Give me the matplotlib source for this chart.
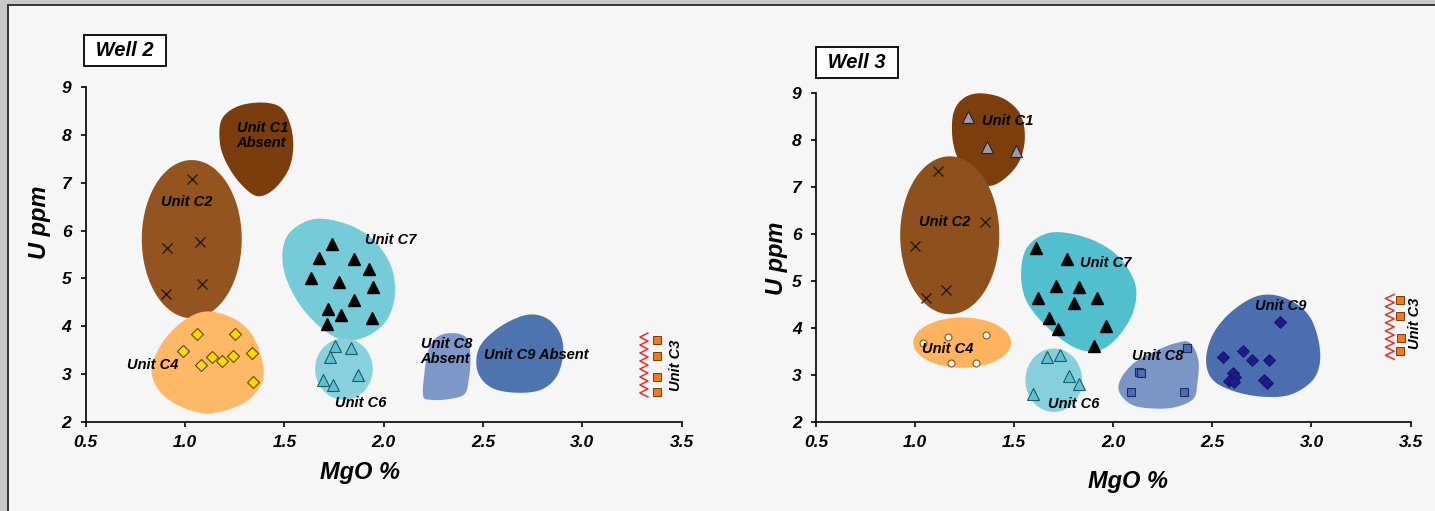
"""U ppm vs MgO % cross-plots for Well 2 and Well 3, with unit envelopes."""

import matplotlib
matplotlib.use("Agg")
import matplotlib.pyplot as plt  # noqa: E402
import numpy as np  # noqa: E402
from matplotlib.patches import Rectangle  # noqa: E402

# ---------------- Well 2 samples ----------------
W2_C2_MGO = [1.033, 0.911, 1.075, 1.085, 0.903]
W2_C2_U = [7.07, 5.64, 5.77, 4.885, 4.67]
W2_C4_MGO = [1.059, 1.251, 0.991, 1.134, 1.184, 1.243, 1.338, 1.080, 1.343]
W2_C4_U = [3.84, 3.84, 3.49, 3.36, 3.28, 3.38, 3.44, 3.195, 2.85]
W2_C7_MGO = [1.738, 1.676, 1.852, 1.924, 1.634, 1.776, 1.947, 1.852, 1.721, 1.783, 1.943, 1.717]
W2_C7_U = [5.71, 5.43, 5.41, 5.19, 5.02, 4.93, 4.82, 4.545, 4.357, 4.245, 4.18, 4.057]
W2_C6_MGO = [1.755, 1.834, 1.729, 1.693, 1.746, 1.872]
W2_C6_U = [3.60, 3.54, 3.37, 2.88, 2.78, 2.99]
W2_C3_MGO = [3.374, 3.374, 3.378, 3.374]
W2_C3_U = [3.72, 3.39, 2.95, 2.64]

# ---------------- Well 3 samples ----------------
W3_C1_MGO = [1.265, 1.363, 1.507]
W3_C1_U = [8.49, 7.86, 7.77]
W3_C2_MGO = [1.117, 1.351, 0.998, 1.154, 1.055]
W3_C2_U = [7.345, 6.27, 5.75, 4.81, 4.65]
W3_C4_MGO = [1.041, 1.168, 1.356, 1.179, 1.307]
W3_C4_U = [3.68, 3.82, 3.85, 3.26, 3.26]
W3_C7_MGO = [1.610, 1.768, 1.711, 1.827, 1.618, 1.802, 1.919, 1.677, 1.723, 1.963, 1.903]
W3_C7_U = [5.71, 5.47, 4.90, 4.87, 4.655, 4.54, 4.65, 4.21, 3.995, 4.04, 3.625]
W3_C6_MGO = [1.664, 1.731, 1.775, 1.825, 1.596]
W3_C6_U = [3.39, 3.43, 2.99, 2.81, 2.61]
W3_C8_MGO = [2.374, 2.132, 2.142, 2.088, 2.358]
W3_C8_U = [3.59, 3.07, 3.04, 2.645, 2.645]
W3_C9_MGO = [2.841, 2.555, 2.656, 2.698, 2.786, 2.602, 2.614, 2.585, 2.608, 2.760, 2.774]
W3_C9_U = [4.14, 3.39, 3.51, 3.335, 3.335, 3.04, 2.965, 2.88, 2.86, 2.91, 2.84]
W3_C3_MGO = [3.447, 3.447, 3.452, 3.447]
W3_C3_U = [4.61, 4.26, 3.80, 3.51]

# ---------------- unit envelopes (MgO, U) ----------------
W2_C1_OUTLINE = [(1.377, 8.67), (1.478, 8.58), (1.528, 8.24), (1.545, 7.75), (1.520, 7.26),
                 (1.444, 6.85), (1.361, 6.72), (1.277, 6.99), (1.210, 7.40), (1.176, 7.82),
                 (1.184, 8.31), (1.260, 8.58)]
W2_C2_ELLIPSE = (1.034, 5.82, 0.503, 3.30)  # centre MgO, centre U, width, height
W2_C4_OUTLINE = [(1.100, 4.31), (1.243, 4.17), (1.343, 3.79), (1.394, 3.16), (1.377, 2.74),
                 (1.277, 2.36), (1.092, 2.19), (0.908, 2.50), (0.832, 3.02), (0.874, 3.58),
                 (0.975, 4.06)]
W2_C7_OUTLINE = [(1.629, 6.22), (1.780, 6.18), (1.931, 5.87), (2.031, 5.32), (2.057, 4.69),
                 (2.015, 4.13), (1.914, 3.79), (1.796, 3.72), (1.679, 3.99), (1.562, 4.55),
                 (1.494, 5.25), (1.512, 5.87)]
W2_C6_ELLIPSE = (1.80, 3.11, 0.29, 1.28)
W2_C8_OUTLINE = [(2.199, 2.55), (2.205, 3.02), (2.225, 3.50), (2.270, 3.78), (2.345, 3.86),
                 (2.417, 3.76), (2.437, 3.37), (2.428, 2.88), (2.405, 2.58), (2.320, 2.48),
                 (2.235, 2.47)]
W2_C9_OUTLINE = [(2.719, 4.24), (2.820, 4.17), (2.887, 3.86), (2.904, 3.44), (2.870, 2.95),
                 (2.786, 2.67), (2.652, 2.62), (2.535, 2.74), (2.471, 3.09), (2.484, 3.58),
                 (2.585, 3.99)]

W3_C1_OUTLINE = [(1.327, 9.00), (1.445, 8.89), (1.529, 8.57), (1.554, 8.08), (1.529, 7.58),
                 (1.462, 7.22), (1.378, 7.03), (1.294, 7.15), (1.227, 7.51), (1.190, 8.00),
                 (1.193, 8.57), (1.243, 8.89)]
W3_C2_ELLIPSE = (1.175, 5.98, 0.50, 3.36)
W3_C4_ELLIPSE = (1.2375, 3.695, 0.493, 1.07)
W3_C7_OUTLINE = [(1.69, 6.04), (1.87, 5.92), (2.02, 5.55), (2.11, 4.95), (2.10, 4.35),
                 (2.02, 3.80), (1.92, 3.52), (1.80, 3.60), (1.66, 4.05), (1.56, 4.60),
                 (1.535, 5.20), (1.57, 5.75)]
W3_C6_ELLIPSE = (1.70, 2.895, 0.286, 1.35)
W3_C8_OUTLINE = [(2.387, 3.69), (2.429, 3.32), (2.424, 2.82), (2.404, 2.50), (2.320, 2.33),
                 (2.219, 2.29), (2.101, 2.36), (2.034, 2.61), (2.034, 2.89), (2.101, 3.25),
                 (2.219, 3.53), (2.320, 3.69)]
W3_C9_OUTLINE = [(2.740, 4.70), (2.875, 4.63), (2.992, 4.24), (3.043, 3.53), (3.018, 2.965),
                 (2.908, 2.61), (2.774, 2.54), (2.622, 2.645), (2.505, 2.89), (2.468, 3.32),
                 (2.505, 3.89), (2.605, 4.385)]

# unconformity zigzag next to Unit C3: (MgO centre, U bottom, U top)
W2_ZIGZAG = (3.31, 2.53, 3.86)
W3_ZIGZAG = (3.395, 3.34, 4.72)

X_TICKS = [0.5, 1.0, 1.5, 2.0, 2.5, 3.0, 3.5]
Y_TICKS = [2, 3, 4, 5, 6, 7, 8, 9]

BG = "#f6f6f6"


def smooth_closed(points, n=24):
    """Closed Catmull-Rom curve through the outline points."""
    p = np.asarray(points, dtype=float)
    k = len(p)
    t = np.linspace(0, 1, n, endpoint=False)[:, None]
    out = []
    for i in range(k):
        p0, p1, p2, p3 = p[i - 1], p[i], p[(i + 1) % k], p[(i + 2) % k]
        out.append(0.5 * (2 * p1 + (-p0 + p2) * t
                          + (2 * p0 - 5 * p1 + 4 * p2 - p3) * t ** 2
                          + (-p0 + 3 * p1 - 3 * p2 + p3) * t ** 3))
    out = np.vstack(out)
    return out[:, 0], out[:, 1]


def fill_outline(ax, points, color):
    x, y = smooth_closed(points)
    ax.fill(x, y, color=color, lw=0, zorder=1)


def fill_ellipse(ax, params, color):
    cx, cy, w, h = params
    t = np.linspace(0, 2 * np.pi, 200)
    ax.fill(cx + w / 2 * np.cos(t), cy + h / 2 * np.sin(t), color=color, lw=0, zorder=1)


def zigzag(ax, params, half_width, teeth=8):
    xc, y0, y1 = params
    y = np.linspace(y0, y1, 2 * teeth + 1)
    x = xc + half_width * np.where(np.arange(len(y)) % 2 == 0, 1, -1)
    ax.plot(x, y, color="#e2312b", lw=1.1, zorder=2, clip_on=False)


def label(ax, x, y, text, **kw):
    ax.text(x, y, text, fontsize=10.5, ha="center", va="center", zorder=5, **kw)


def style_axes(ax, title, ylab_pos, xlab_pos, title_pos):
    ax.set_xlim(0.5, 3.5)
    ax.set_ylim(2, 9)
    ax.set_xticks(X_TICKS)
    ax.set_xticklabels([f"{v:.1f}" for v in X_TICKS])
    ax.set_yticks(Y_TICKS)
    ax.set_facecolor("none")
    for side in ("top", "right"):
        ax.spines[side].set_visible(False)
    for side in ("left", "bottom"):
        ax.spines[side].set_linewidth(1.2)
    ax.tick_params(axis="both", direction="out", length=3.8, width=1.2, labelsize=12.5)
    ax.tick_params(axis="x", pad=5)
    ax.tick_params(axis="y", pad=6.5)
    ax.text(*ylab_pos, "U ppm", rotation=90, fontsize=17, ha="center", va="center",
            transform=ax.transAxes)
    ax.text(*xlab_pos, "MgO %", fontsize=17, ha="center", va="center", transform=ax.transAxes)
    ax.text(*title_pos, f" {title} ", fontsize=14.5, ha="center", va="center",
            transform=ax.transAxes,
            bbox=dict(boxstyle="square,pad=0.3", fc="white", ec="black", lw=1.3))


def main() -> None:
    plt.rcParams["font.family"] = ["Liberation Sans", "DejaVu Sans"]
    plt.rcParams["font.weight"] = "bold"
    plt.rcParams["font.style"] = "italic"

    fig = plt.figure(figsize=(14.35, 5.11), dpi=100, facecolor=BG)
    # page frame: grey margin and dark rule along top and left
    fig.add_artist(Rectangle((0, 1 - 4 / 511), 1, 4 / 511, transform=fig.transFigure,
                             color="#c9c9c9", lw=0))
    fig.add_artist(Rectangle((0, 0), 7 / 1435, 1, transform=fig.transFigure,
                             color="#c9c9c9", lw=0))
    fig.add_artist(Rectangle((7 / 1435, 1 - 6 / 511), 1, 2 / 511, transform=fig.transFigure,
                             color="#3a3a3a", lw=0))
    fig.add_artist(Rectangle((7 / 1435, 0), 2 / 1435, 1 - 4 / 511, transform=fig.transFigure,
                             color="#3a3a3a", lw=0))

    ax2 = fig.add_axes([0.0597, 0.1736, 0.4153, 0.6567])
    ax3 = fig.add_axes([0.5686, 0.1736, 0.4144, 0.6438])

    # ---------------- Well 2 ----------------
    fill_outline(ax2, W2_C1_OUTLINE, "#7b3d0c")
    fill_ellipse(ax2, W2_C2_ELLIPSE, "#93541f")
    fill_outline(ax2, W2_C4_OUTLINE, "#ffb866")
    fill_outline(ax2, W2_C7_OUTLINE, "#75ccd8")
    fill_ellipse(ax2, W2_C6_ELLIPSE, "#88d1dd")
    fill_outline(ax2, W2_C8_OUTLINE, "#7d98c8")
    fill_outline(ax2, W2_C9_OUTLINE, "#4e74b0")
    zigzag(ax2, W2_ZIGZAG, 0.02)

    ax2.plot(W2_C2_MGO, W2_C2_U, "x", ms=7, mew=1.0, color="#2b1a0c", zorder=3)
    ax2.plot(W2_C4_MGO, W2_C4_U, "D", ms=6, mfc="#f6d90f", mec="#5a4800", mew=0.8, ls="none", zorder=3)
    ax2.plot(W2_C7_MGO, W2_C7_U, "^", ms=8.5, color="black", ls="none", zorder=3)
    ax2.plot(W2_C6_MGO, W2_C6_U, "^", ms=8, mfc="#5cc2d0", mec="#1d5b66", mew=0.8, ls="none", zorder=3)
    ax2.plot(W2_C3_MGO, W2_C3_U, "s", ms=6, mfc="#f07a1c", mec="#7a3a00", mew=0.7, ls="none",
             zorder=3, clip_on=False)

    ax2.text(1.26, 7.98, "Unit C1\nAbsent", fontsize=10.5, ha="left", va="center",
             linespacing=1.05, zorder=5)
    label(ax2, 1.008, 6.60, "Unit C2")
    label(ax2, 2.035, 5.80, "Unit C7")
    label(ax2, 0.835, 3.195, "Unit C4")
    label(ax2, 1.884, 2.40, "Unit C6")
    ax2.text(2.186, 3.48, "Unit C8\nAbsent", fontsize=10.5, ha="left", va="center",
             linespacing=1.05, zorder=5)
    label(ax2, 2.77, 3.40, "Unit C9 Absent")
    label(ax2, 3.472, 3.18, "Unit C3", rotation=90, clip_on=False)

    style_axes(ax2, "Well 2", (-0.078, 0.597), (0.46, -0.151), (0.066, 1.108))

    # ---------------- Well 3 ----------------
    fill_outline(ax3, W3_C1_OUTLINE, "#7c3e0d")
    fill_ellipse(ax3, W3_C2_ELLIPSE, "#8e501d")
    fill_ellipse(ax3, W3_C4_ELLIPSE, "#ffb35c")
    fill_outline(ax3, W3_C7_OUTLINE, "#52bfcf")
    fill_ellipse(ax3, W3_C6_ELLIPSE, "#86cfdc")
    fill_outline(ax3, W3_C8_OUTLINE, "#7b95c6")
    fill_outline(ax3, W3_C9_OUTLINE, "#4a6eb0")
    zigzag(ax3, W3_ZIGZAG, 0.022)

    ax3.plot(W3_C1_MGO, W3_C1_U, "^", ms=8, mfc="#9a9cab", mec="#222222", mew=0.8, ls="none", zorder=3)
    ax3.plot(W3_C2_MGO, W3_C2_U, "x", ms=7, mew=1.0, color="#2b1a0c", zorder=3)
    ax3.plot(W3_C4_MGO, W3_C4_U, "o", ms=5, mfc="#fff4e2", mec="#7a5a30", mew=0.8, ls="none", zorder=3)
    ax3.plot(W3_C7_MGO, W3_C7_U, "^", ms=8.5, color="black", ls="none", zorder=3)
    ax3.plot(W3_C6_MGO, W3_C6_U, "^", ms=8, mfc="#5cc2d0", mec="#1d5b66", mew=0.8, ls="none", zorder=3)
    ax3.plot(W3_C8_MGO, W3_C8_U, "s", ms=6, mfc="#4a6db0", mec="#1c2d5e", mew=0.8, ls="none", zorder=3)
    ax3.plot(W3_C9_MGO, W3_C9_U, "D", ms=6.5, mfc="#1c1a8c", mec="#12125e", mew=0.6, ls="none", zorder=3)
    ax3.plot(W3_C3_MGO, W3_C3_U, "s", ms=6, mfc="#f07a1c", mec="#7a3a00", mew=0.7, ls="none",
             zorder=3, clip_on=False)

    label(ax3, 1.465, 8.42, "Unit C1")
    label(ax3, 1.151, 6.27, "Unit C2")
    label(ax3, 1.964, 5.38, "Unit C7")
    label(ax3, 1.163, 3.57, "Unit C4")
    label(ax3, 1.802, 2.38, "Unit C6")
    label(ax3, 2.222, 3.405, "Unit C8")
    label(ax3, 2.845, 4.47, "Unit C9")
    label(ax3, 3.522, 4.10, "Unit C3", rotation=90, clip_on=False)

    style_axes(ax3, "Well 3", (-0.066, 0.499), (0.525, -0.18), (0.069, 1.095))

    fig.savefig("out.png", dpi=100, facecolor=BG)
    plt.close(fig)


if __name__ == "__main__":
    main()
